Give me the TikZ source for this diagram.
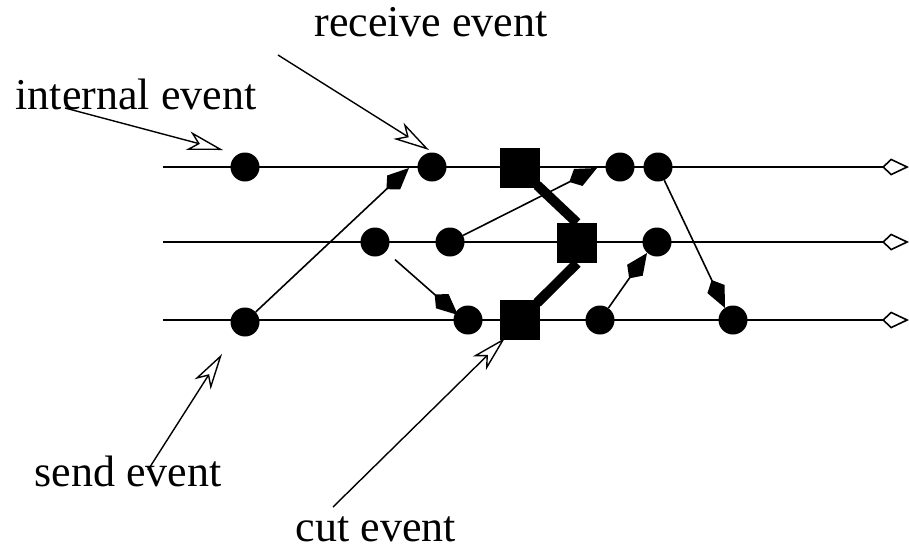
\documentclass[tikz,border=0pt]{standalone}
\usepackage{fontspec}
\setmainfont{Liberation Serif}
\usetikzlibrary{arrows.meta,calc}
\begin{document}
\begin{tikzpicture}[x=1pt,y=-1pt,
  proc/.style={line width=1.6pt, -{Kite[open,length=27pt,width=17pt,inset=9pt,line width=1.6pt]}},
  ev/.style={circle, fill=black, minimum size=29pt, inner sep=0pt},
  cut/.style={rectangle, fill=black, minimum size=40pt, inner sep=0pt},
  msg/.style={line width=1.6pt, -{Kite[length=31pt,width=19pt,inset=10pt]}},
  lbl/.style={line width=1.4pt, -{Stealth[open,length=36pt,width=19pt,inset=10pt,line width=1.4pt]}},
  txt/.style={font=\fontsize{44}{50}\selectfont, inner sep=0pt, anchor=base},
  cutline/.style={line width=10pt}]
\useasboundingbox (0,0) rectangle (909,550);
% process lines
\coordinate (a1) at (163,167); \coordinate (a2) at (909,167);
\coordinate (b1) at (163,242); \coordinate (b2) at (909,242);
\coordinate (c1) at (163,320); \coordinate (c2) at (909,320);
\draw[proc] (a1) -- (a2);
\draw[proc] (b1) -- (b2);
\draw[proc] (c1) -- (c2);
% events
\node[ev] (t1) at (245,167) {};
\node[ev] (t2) at (432,167) {};
\node[cut] (tc) at (520,168) {};
\node[ev] (t3) at (620,167) {};
\node[ev] (t4) at (658,167) {};
\node[ev] (m1) at (375,242) {};
\node[ev] (m2) at (450,242) {};
\node[cut] (mc) at (577,243) {};
\node[ev] (m3) at (657,242) {};
\node[ev] (s1) at (245,322) {};
\node[ev] (s2) at (468,320) {};
\node[cut] (sc) at (520,320) {};
\node[ev] (s3) at (600,320) {};
\node[ev] (s4) at (733,320) {};
% cut lines
\draw[cutline] ($(tc.south east)+(-3,-3)$) -- (mc.north);
\draw[cutline] (mc.south) -- ($(sc.north east)+(-3,3)$);
% messages
\coordinate (e1) at (409,168);
\coordinate (e2) at (458,315);
\coordinate (e3) at (597,168);
\coordinate (e4) at (647,253);
\coordinate (e5) at (725,308);
\draw[msg] (s1) -- (e1);
\draw[msg, shorten <=12pt] (m1) -- (e2);
\draw[msg] (m2) -- (e3);
\draw[msg] (s3) -- (e4);
\draw[msg] (t4) -- (e5);
% labels
\node[txt] (lrecv) at (431,36) {receive event};
\node[txt] (lint) at (136,109) {internal event};
\node[txt] (lsend) at (128,486) {send event};
\node[txt] (lcut) at (376,541) {cut event};
\coordinate (r0) at (278,55);
\coordinate (r1) at (429,150);
\coordinate (i0) at (65,108);
\coordinate (i1) at (223,150);
\coordinate (s0) at (148,470);
\coordinate (sx) at (222,354);
\coordinate (c0) at (333,507);
\coordinate (cx) at (505,338);
\draw[lbl] (r0) -- (r1);
\draw[lbl] (i0) -- (i1);
\draw[lbl] (s0) -- (sx);
\draw[lbl] (c0) -- (cx);
\end{tikzpicture}
\end{document}
